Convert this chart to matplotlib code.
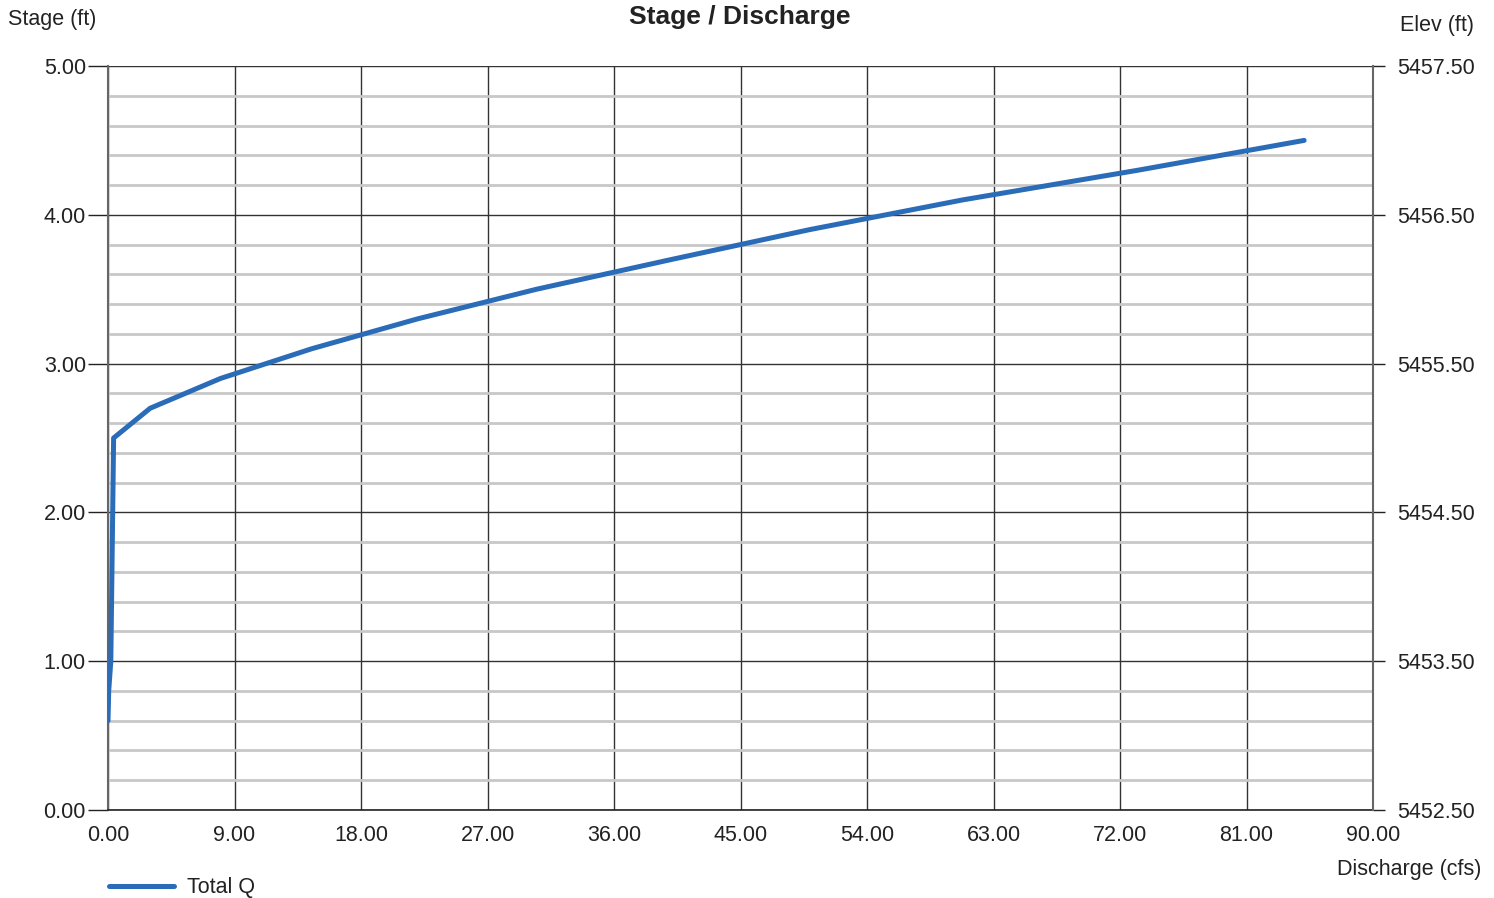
import matplotlib
matplotlib.use("Agg")
import matplotlib.pyplot as plt
import numpy as np
from matplotlib.ticker import FormatStrFormatter, MultipleLocator

plt.rcParams["font.family"] = ["Liberation Sans", "DejaVu Sans"]

# rating curve: discharge (cfs) vs stage (ft)
discharge = [0.0, 0.05, 0.2, 0.4, 3.0, 8.0, 14.5, 22.0, 30.5, 40.1, 49.9, 60.8, 73.3, 85.1]
stage = [0.6, 0.8, 1.0, 2.5, 2.7, 2.9, 3.1, 3.3, 3.5, 3.7, 3.9, 4.1, 4.3, 4.5]
base_elev = 5452.5

x_ticks = np.arange(0, 91, 9)
y_ticks = np.arange(0, 5.01, 1)

fig = plt.figure(figsize=(14.94, 8.98), dpi=100)
ax = fig.add_axes([108 / 1494, 88 / 898, 1265 / 1494, 744 / 898])

ax.set_xlim(0, 90)
ax.set_ylim(0, 5)
ax.set_xticks(x_ticks)
ax.set_yticks(y_ticks)
ax.yaxis.set_minor_locator(MultipleLocator(0.2))
ax.xaxis.set_major_formatter(FormatStrFormatter("%.2f"))
ax.yaxis.set_major_formatter(FormatStrFormatter("%.2f"))

ax.grid(which="minor", axis="y", color="#c8c8c8", lw=2.0, zorder=0)
ax.grid(which="major", color="#333333", lw=1.0, zorder=1)

ax.tick_params(axis="x", which="major", length=0, pad=11, labelsize=15.5, colors="#222222")
ax.tick_params(axis="y", which="major", length=14.4, width=1.0, pad=1.5, labelsize=15.5, colors="#222222")
ax.tick_params(axis="y", which="minor", length=0)
for s in ["top", "right"]:
    ax.spines[s].set_visible(False)
ax.spines["left"].set_color("#666666")
ax.spines["left"].set_linewidth(1.5)
ax.spines["bottom"].set_color("#222222")
ax.spines["bottom"].set_linewidth(1.2)

line, = ax.plot(discharge, stage, color="#2b6cb8", lw=3.6, solid_capstyle="round",
                solid_joinstyle="round", zorder=3, label="Total Q")

# elevation axis on the right
ax2 = ax.twinx()
ax2.set_ylim(base_elev, base_elev + 5)
ax2.set_yticks(y_ticks + base_elev)
ax2.yaxis.set_major_formatter(FormatStrFormatter("%.2f"))
ax2.tick_params(axis="y", length=8.6, width=1.0, pad=9, labelsize=15.5, colors="#222222")
for s in ["top", "left", "bottom"]:
    ax2.spines[s].set_visible(False)
ax2.spines["right"].set_color("#666666")
ax2.spines["right"].set_linewidth(1.5)

fig.text(740 / 1494, 1 - 17 / 898, "Stage / Discharge", ha="center", va="center",
         fontsize=19, fontweight="bold", color="#222222")
fig.text(8 / 1494, 1 - 19 / 898, "Stage (ft)", ha="left", va="center", fontsize=15.5, color="#222222")
fig.text(1474 / 1494, 1 - 26 / 898, "Elev (ft)", ha="right", va="center", fontsize=15.5, color="#222222")
fig.text(1481 / 1494, 1 - 870 / 898, "Discharge (cfs)", ha="right", va="center", fontsize=15.5, color="#222222")

fig.legend(handles=[line], loc="center left", bbox_to_anchor=(90 / 1494, 1 - 888 / 898),
           frameon=False, fontsize=15.5, handlelength=3.0, handletextpad=0.6,
           labelcolor="#222222")

fig.savefig("out.png", dpi=100)
